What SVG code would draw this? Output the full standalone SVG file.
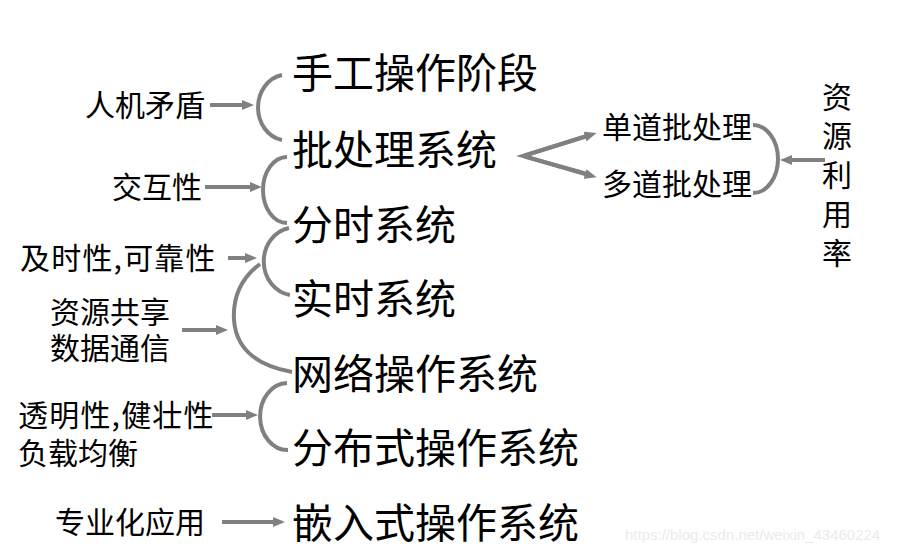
<svg xmlns="http://www.w3.org/2000/svg" width="905" height="554" viewBox="0 0 905 554">
<style>
.main{font-family:"Noto Sans CJK SC","Liberation Serif",serif;font-size:41px;fill:#000}
.lab{font-family:"Noto Sans CJK SC","Liberation Serif",serif;font-size:30px;fill:#000}
.ln{fill:none;stroke:#808080;stroke-width:4}
.ar{fill:none;stroke:#808080;stroke-width:4;marker-end:url(#ah)}
.wm{font-family:"Liberation Sans",sans-serif;font-size:15px;fill:#ebebeb}
</style>
<defs>
<marker id="ah" viewBox="0 0 12 10" refX="2" refY="5" markerWidth="12" markerHeight="10" markerUnits="userSpaceOnUse" orient="auto">
<path d="M0,0 L12,5 L0,10 z" fill="#808080"/>
</marker>
</defs>
<rect width="905" height="554" fill="#fff"/>
<g id="connectors">
<path class="ln" d="M282 75 A29 33 0 0 0 282 140"/>
<path class="ln" d="M287 157 A24 33 0 0 0 287 223"/>
<path class="ln" d="M289 228 A31 34 0 0 0 290 295"/>
<path class="ln" d="M260 264 Q232 285 234 320 Q237 362 292 372"/>
<path class="ln" d="M287 383 A27 33 0 0 0 288 450"/>
<path class="ln" d="M753 125 A25 34 0 0 1 753 193"/>
<line class="ar" x1="210" y1="105" x2="244" y2="105"/>
<line class="ar" x1="205" y1="187" x2="252" y2="187"/>
<line class="ar" x1="228" y1="258" x2="247" y2="258"/>
<line class="ar" x1="182" y1="330" x2="218" y2="330"/>
<line class="ar" x1="212" y1="415" x2="248" y2="415"/>
<line class="ar" x1="222" y1="522" x2="275" y2="522"/>
<polyline class="ln" points="587,136 523,156 587,174"/>
<line class="ar" x1="525" y1="155.4" x2="587" y2="136"/>
<line class="ar" x1="525" y1="156.6" x2="587" y2="174.5"/>
<line class="ar" x1="825" y1="160" x2="790" y2="160"/>
</g>
<g id="n1"><text class="main" x="292" y="88">手工操作阶段</text></g>
<g id="n2"><text class="main" x="292" y="165">批处理系统</text></g>
<g id="n3"><text class="main" x="292" y="240">分时系统</text></g>
<g id="n4"><text class="main" x="292" y="314">实时系统</text></g>
<g id="n5"><text class="main" x="292" y="389">网络操作系统</text></g>
<g id="n6"><text class="main" x="292" y="463">分布式操作系统</text></g>
<g id="n7"><text class="main" x="292" y="538">嵌入式操作系统</text></g>
<g id="l1"><text class="lab" x="85" y="116">人机矛盾</text></g>
<g id="l2"><text class="lab" x="112" y="198">交互性</text></g>
<g id="l3"><text class="lab" x="20" y="269" letter-spacing="1.2">及时性,可靠性</text></g>
<g id="l4"><text class="lab"><tspan x="50" y="323">资源共享</tspan><tspan x="50" y="359">数据通信</tspan></text></g>
<g id="l5"><text class="lab"><tspan x="18" y="426" letter-spacing="1.2">透明性,健壮性</tspan><tspan x="18" y="464">负载均衡</tspan></text></g>
<g id="l6"><text class="lab" x="55" y="533">专业化应用</text></g>
<g id="r1"><text class="lab" x="602" y="138">单道批处理</text></g>
<g id="r2"><text class="lab" x="602" y="195">多道批处理</text></g>
<g id="r3">
<text class="lab" x="837" y="82" writing-mode="vertical-rl" letter-spacing="9">资源利用率</text>
</g>
<text class="wm" x="625" y="540">https://blog.csdn.net/weixin_43460224</text>
</svg>
